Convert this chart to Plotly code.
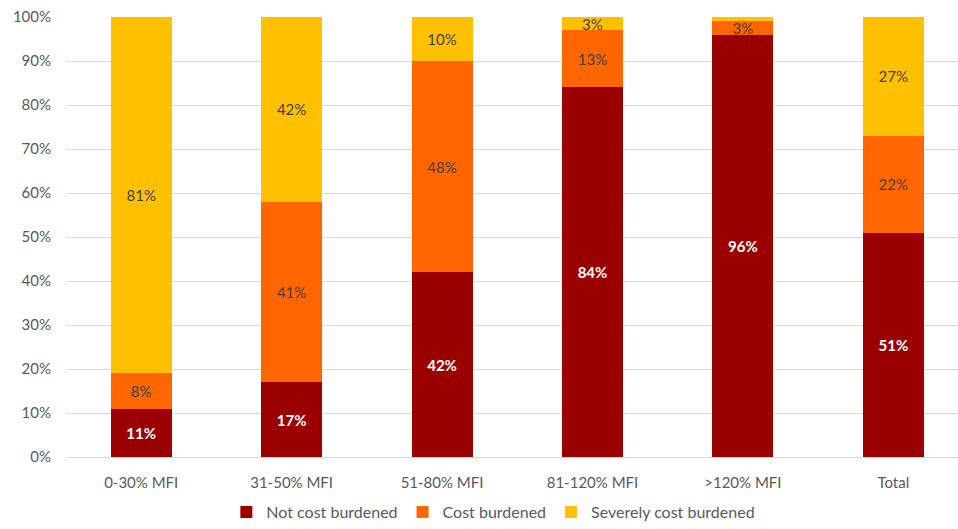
import plotly.graph_objects as go

categories = ["0-30% MFI", "31-50% MFI", "51-80% MFI", "81-120% MFI", ">120% MFI", "Total"]
not_burdened = [11, 17, 42, 84, 96, 51]
cost_burdened = [8, 41, 48, 13, 3, 22]
severely_burdened = [81, 42, 10, 3, 1, 27]
severely_labels = ["81%", "42%", "10%", "3%", "", "27%"]
y_ticks = [0, 10, 20, 30, 40, 50, 60, 70, 80, 90, 100]

FONT = "Lato, Carlito, Noto Sans, sans-serif"
LBL = 15

fig = go.Figure()
fig.add_trace(go.Bar(
    x=categories, y=not_burdened, name="Not cost burdened",
    marker=dict(color="#9A0000", line=dict(width=0)),
    text=[f"<b>{v}%</b>" for v in not_burdened], textposition="inside",
    insidetextanchor="middle", textangle=0,
    textfont=dict(color="white", size=LBL, family=FONT),
))
fig.add_trace(go.Bar(
    x=categories, y=cost_burdened, name="Cost burdened",
    marker=dict(color="#FF6600", line=dict(width=0)),
    text=[f"{v}%" for v in cost_burdened], textposition="inside",
    insidetextanchor="middle", textangle=0,
    textfont=dict(color="#404040", size=LBL, family=FONT),
))
fig.add_trace(go.Bar(
    x=categories, y=severely_burdened, name="Severely cost burdened",
    marker=dict(color="#FFC000", line=dict(width=0)),
    text=severely_labels, textposition="inside",
    insidetextanchor="middle", textangle=0,
    textfont=dict(color="#404040", size=LBL, family=FONT),
))

fig.update_layout(
    barmode="stack",
    bargap=0.595,
    width=958, height=529,
    margin=dict(l=66, r=0, t=17, b=72, autoexpand=False),
    plot_bgcolor="white", paper_bgcolor="white",
    font=dict(family=FONT, size=15, color="#595959"),
    uniformtext=dict(minsize=LBL, mode="show"),
    legend=dict(orientation="h", x=0.515, xref="container", xanchor="center",
                y=0.0, yref="container", yanchor="bottom",
                font=dict(size=16, color="#595959"), itemwidth=30, traceorder="normal"),
    showlegend=True,
)
fig.update_xaxes(range=[-0.5, 5.43], showgrid=False, showline=True, linecolor="#d9d9d9",
                 linewidth=1, ticks="", tickfont=dict(size=15, color="#595959"),
                 ticklabelstandoff=12, automargin=False)
fig.update_yaxes(range=[0, 100], tickvals=y_ticks, ticktext=[f"{v}%" for v in y_ticks],
                 showgrid=True, gridcolor="#d9d9d9", gridwidth=1, zeroline=False,
                 ticks="", tickfont=dict(size=15, color="#595959"),
                 ticklabelstandoff=14, automargin=False)

fig.write_html("out.html")
